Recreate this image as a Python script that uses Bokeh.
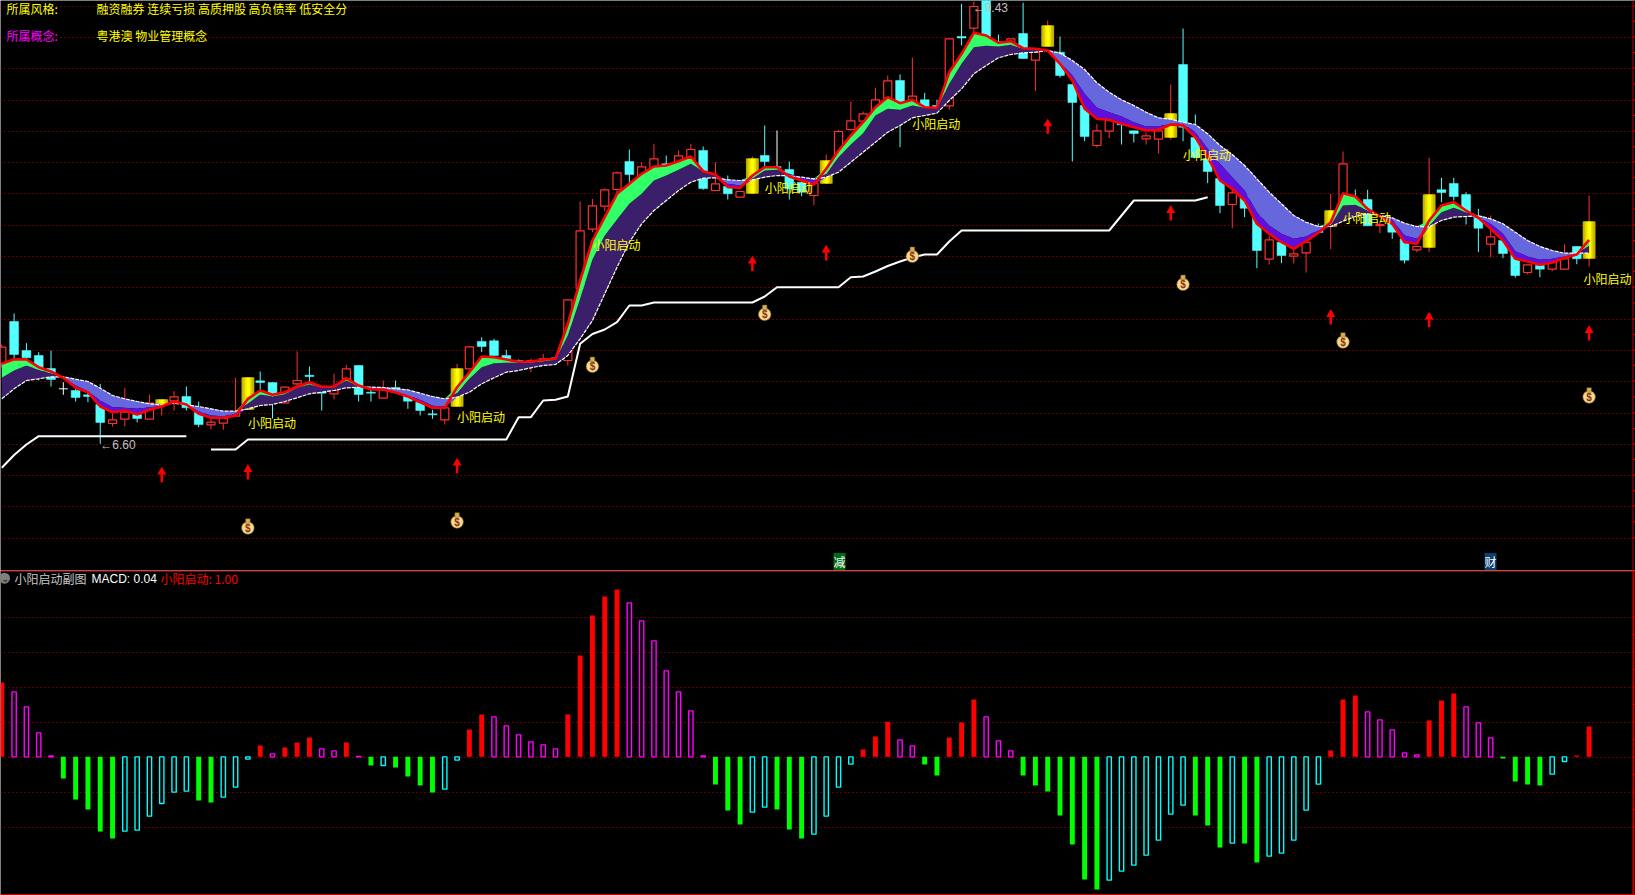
import numpy as np
from bokeh.plotting import figure
from bokeh.layouts import column
from bokeh.models import Range1d, FixedTicker, Grid, Span, Label
from bokeh.core.properties import value
from bokeh.embed import file_html
from bokeh.resources import INLINE

# ---------- candle values (chart level units) ----------
open_ = [207,249,220,215,202,181.7,180,175.7,166,147,
151.3,156,151.3,166.7,169.7,174,158,145.7,147.3,154.3,
161,189.7,188,167.7,186.7,195.3,179.3,176.7,191.7,205,
178.3,172.3,183,175,168.3,156.7,150.7,164,201.7,229,
229.7,215,210,207.7,209.3,212.7,210,282,341.3,364.3,
381,409,391.7,401.7,406.7,407.3,410,420,380,384,
373.3,377,415,403.5,401,388.3,375,387,413,441,
449.3,458.3,472.3,490,468.3,470.7,465,464.7,534,542.3,
575,529,525,537,510.3,524,518.3,486,465,425,
439.3,447.3,439.7,431.7,431.3,433,506,433,412,392,
366,375,355,311.3,328.3,314.3,317.7,342,344,355,
370,371,344.8,346.7,331.7,320.7,323,380.7,387,376,
354,326.3,330,316.7,298,305,301.3,301.3,324,312]
close_ = [223.3,216,212.7,193.3,191,181.7,173,174,148,150.7,
158.3,152,167.3,171,173.7,162.7,146,148.3,152,158.3,
193,188,176.7,183.3,190,194,177.3,180,201.7,176,
177.3,182.7,181,169.3,160,155.7,162.7,202,223.7,224,
215,210.7,209,210,211.7,210.7,270.7,339.7,364.7,380.7,
397.7,396,403.7,411.7,405,414.7,421,382,386.7,376.7,
379,412,409,403.5,381.7,378.3,387.3,410,439,449.7,
456.7,470.7,489.7,465,474.3,463.3,463,531.7,532.5,564,
533,527,531.7,512,518.3,545,495,468,434,439.7,
450.7,445.7,437,434.7,439.7,457,443.3,413,399,365,
377.7,362.3,320,330.7,315,316.7,328.3,338,360,406.7,
364,344.7,345.8,338.3,310.3,324,376,378,374,358.3,
342.3,333.7,317,295,305.7,301.3,308.3,311.7,311.7,349]
high_ = [226,257,227.3,218.3,220,188.3,182,180,186.7,157,
182.7,160,176,171,179.3,184,169,152,157,192.7,
193,199,188,183.3,219,204,182,196.7,205.7,205,
182,190,190,175,172,160.7,162.7,206.7,223.7,233.3,
231.7,220.7,211,212,216.7,214,270.7,369,371.7,382.3,
399,421,408.3,426.7,415,420,426.7,424,408.3,395,
379,414,445,440,409,389,387.3,416,440.7,469,
459,482.7,495,496,513,477.7,470.7,531.7,566.7,569,
575,536,531.7,567.7,518.3,550,534,486,465,446.7,
450.7,448,440,438,439.7,486,542,456,412,392,
383,375,355,335,328.3,324,328.3,347,376.7,419,
381,380.7,349,346.7,331.7,324,412.7,392.7,392.7,378.3,
361.7,355,330,316.7,305.7,305,308.3,326,324,375]
low_ = [203,212,203,190,184,175.7,169,168.3,126.7,144,
144,148,151.3,155,160,160,143.3,141.3,140.7,154.3,
161,172.3,152,167,183.3,188.3,160,171,188.3,169,
169,172.3,177,161.7,155,151.7,146,164,201.7,218.3,
215,210.7,209,198.3,208,209,205,282,338.3,359.3,
377,386.7,391.7,401.7,405,407.3,410,380.7,380,371,
373.3,377,400,402,371,374.3,365.3,387,413,439.3,
449.3,458.3,472.3,423.3,468.3,463.3,463,460.7,525,537,
533,527,525,512,479.3,524,493,409,429.3,423,
432.3,426,428,426,417,431,429.3,413,387.3,357.3,
342.3,353.3,302.3,306,307.3,307,298,338,321.3,355,
364,344.7,337.3,331.7,307,318.3,318.3,368.3,370,346,
318.3,313.3,312.3,293,296,293.3,299.3,301.3,306.3,304]

# ---------- signal candles (gold body) and markers ----------
signal_idx = [13,20,37,61,67,85,95,108,116,129]
bag_idx = [20,37,48,62,74,96,109,129]
bag_level = [44,50,205.7,257.7,315.7,287.7,230,175]
label_idx = [20,37,48,62,74,96,109,128.55]
label_level = [147.7,154,325.7,382.7,446.7,416,353.3,291.7]
arrow_low = [88.3,91,97.3,299.3,310,436.7,350,246,243.3,230]
arrow_high = [100,102.7,109,311,322,448.3,361.7,257.7,255,241.7]

# ---------- moving-average ribbon ----------
fast = [206.7,211.3,211,203.3,199,192.7,182.7,178.3,164,158.3,160,156,160.7,164,169,166,156.7,152.7,152.7,155,171.7,180,175.7,178.3,184,188.3,183.7,184,192.3,185,181.3,180.7,178,174,168.3,162.7,162.7,183.3,198.3,214,213.3,211,208.7,209,210.7,211.7,246.7,290,330,353.3,376.7,386.7,396.7,404,405,409.3,414,399.3,396,383.3,382.7,395,403.3,403.3,394,390,386,401.7,420,435,448.3,463.3,473.3,467.3,470.7,463.3,462.7,498.3,516.7,537.7,535,527.7,529.3,522.3,521.7,520,506.7,490,461.7,451.7,450.7,446.7,443.3,440,440.7,446,445,433.3,413.3,390,381.7,370,346.7,336.7,328.3,321.7,329.3,337.7,348.3,377.3,374,361.7,354,346.7,328.3,326.7,350,365,368.3,360,352.7,341.7,330,311.7,309,305.7,308,312.7,316,330.7]
mid = [192.7,200,205,200.7,197.3,193,185,179.3,170,163.3,162.7,161.7,163.3,164.7,168.7,165.7,159.3,155,154.3,156.7,167.3,176,174,176.3,182.7,186,183,183.3,190,184,182,181.3,178.5,175,170.7,164.7,164,177.7,191.7,203.3,207.3,207.7,207.7,208,209.3,210.7,235,271.7,311,335,351,366.7,376.7,390,395,400.7,406.7,399.3,395.7,386.7,385,392.3,400,400.7,396.7,392.7,390,396.7,413.3,426,437.3,455,461.7,460.7,465,462.7,462.3,486.7,506.7,523.3,524.7,524,525.7,521.7,521.3,521,508.3,495,476.7,462.7,458.3,454,448.3,444,444,447.3,446.7,438.3,421.7,406.7,393.3,380,358.3,345,336.7,331.7,334,340.7,345.7,365,366,360,354.7,350.7,335,331.7,345,358.3,362.7,358.3,353.3,346.7,336.7,319.3,314,310.7,311.7,314,316.7,325]
slow = [171.7,181.7,190,191.7,193.7,193.7,191.3,189,182.3,175,171.7,169,166.7,165.7,167.3,165.7,164,161.7,159.3,159.3,161.7,165,166,169,172.7,176.7,178.3,180,182.7,183.3,183.3,183,181.7,180.7,177.3,174,171.7,173.3,178.3,186.7,192.7,198.3,200,202.7,205,206,215,231.7,250,276.7,303.3,328.3,346.7,360,370,380,388.3,392.3,392.7,390.7,390,390.7,393.3,395,394.7,393.3,391.7,393.3,398.3,408.3,418.3,428.3,438.3,445,452.7,455,457.3,470,481.7,496.7,505,512.7,516,517.7,518.3,520,517.3,510,501,487.7,478.3,470.7,465,458.3,452.7,451.3,448.3,446,436.7,425,416,405,391.7,378.3,366.7,355,348.3,344,344,349.3,354,356.7,355,352.7,347.3,344,343.7,350,353.3,354,354.7,351.7,346.7,338.3,330,324,320,317.3,317.3,317.3]
support = ([102.7,115.5,126] + [134.3]*13 + [None] + [121]*3 + [131]*22 + [153.3,153.3,170,170.7,174,226.7,236.5,241,248.3,265,265]
           + [268]*9 + [274] + [283.3]*6 + [293.3,294,299,304.5,309,313,316,316,329] + [340]*13 + [355] + [370]*6 + [373.3] + [None]*31)

# ---------- MACD histogram ----------
macd = [223,195,150,72,3,-65,-128,-158,-224,-245,-223,-220,-178,-140,-106,-103,-131,-137,-121,-91,-7,34,9,28,43,58,24,18,43,1,-26,-26,-32,-59,-86,-107,-97,-10,82,127,120,93,66,45,36,24,127,304,424,481,502,462,408,348,258,195,138,3,-83,-161,-203,-166,-151,-158,-218,-245,-232,-178,-91,-22,22,61,105,51,33,-23,-56,58,103,172,120,48,18,-56,-86,-104,-176,-263,-368,-398,-370,-343,-325,-295,-250,-172,-145,-176,-206,-272,-259,-260,-317,-298,-289,-250,-160,-82,19,172,184,135,111,81,12,6,109,169,190,150,102,57,-5,-74,-83,-86,-52,-14,4,91]

price_grid = [564.5,533.5,502.5,470.5,439.5,408.5,377.5,345.5,314.5,283.5,251.5,220.5,189.5,157.5,126.5,95.5,64.5,32.5]
macd_grid = [419.5,314.5,209.5,104.5,-0.5,-105.5,-210.5]

style_row = "融资融券 连续亏损 高质押股 高负债率 低安全分"
concept_row = "粤港澳 物业管理概念"
signal_label = "小阳启动"

GRID = "#c80000"
RED = "#ff3030"
CYAN = "#54ffff"
CJK = "Noto Sans CJK SC"
LAT = "Liberation Sans"

open_ = np.array(open_, float); close_ = np.array(close_, float)
high_ = np.array(high_, float); low_ = np.array(low_, float)
fast = np.array(fast); mid = np.array(mid); slow = np.array(slow)
macd = np.array(macd, float)
n = len(open_)
x = np.arange(n)
is_gold = np.isin(x, signal_idx)
is_up = (close_ > open_) & ~is_gold
is_down = (close_ < open_) & ~is_gold
is_flat = (close_ == open_) & ~is_gold

x_range = Range1d(-0.106, 132.77)
AX = 132.57

p = figure(width=1635, height=570, x_range=x_range, y_range=Range1d(0, 570),
           output_backend="svg", toolbar_location=None, background_fill_color="#000000",
           border_fill_color="#000000", outline_line_color=None,
           min_border=0, x_axis_location=None, y_axis_location=None)
p.xgrid.visible = False
p.ygrid.visible = False
p.add_layout(Grid(dimension=1, ticker=FixedTicker(ticks=price_grid), grid_line_color=GRID,
                  grid_line_dash="1 3", grid_line_width=1))
p.quad(left=AX, right=133, bottom=0, top=570, fill_color="#000000", line_color=None)

# candles
B = 0.72
for mask, col in ((is_up, RED), (is_down, CYAN), (is_gold, RED), (is_flat, "#ffffff")):
    p.segment(x[mask], high_[mask], x[mask], low_[mask], line_color=col, line_width=1)
p.segment(x[is_flat] - B/2, close_[is_flat], x[is_flat] + B/2, close_[is_flat], line_color="#ffffff", line_width=1)
top = np.maximum(open_, close_); bot = np.minimum(open_, close_)
p.vbar(x[is_down], B, bot[is_down], top[is_down], fill_color=CYAN, line_color=CYAN, line_width=0.5)
p.vbar(x[is_up], B - 0.06, bot[is_up], top[is_up], fill_color="#000000", line_color=RED, line_width=1.2)

# gold signal candles, shaded across their width
p.vbar(x[is_gold], 1.05, bot[is_gold], top[is_gold], fill_color="#a09000", line_color=None)
shades = ["#c8b800", "#e0d000", "#f4ec00", "#ffff00", "#ffff00", "#ecdc00", "#c8b800"]
gw = 0.9 / len(shades)
for k, col in enumerate(shades):
    off = -0.45 + gw * (k + 0.5)
    p.vbar(x[is_gold] + off, gw * 1.5, bot[is_gold], top[is_gold], fill_color=col, line_color=None)

# ribbon
upper = np.maximum(mid, slow)
lower = np.minimum(mid, slow)
p.varea(x, slow, upper, fill_color="#3b1f6b")
p.varea(x, upper, np.maximum(fast, upper), fill_color="#33ff66")
p.varea(x, slow, lower, fill_color="#6666dd")
p.varea(x, lower, np.minimum(fast, lower), fill_color="#5f10dd")
p.line(x, slow, line_color="#ffffff", line_width=1.2, line_dash="4 1")
p.line(x, fast, line_color="#ff0000", line_width=2.6)
p.line(x, np.array([np.nan if v is None else v for v in support], float), line_color="#ffffff", line_width=2)

# arrows
ax = np.array(signal_idx, float)
p.segment(ax, arrow_low, ax, arrow_high, line_color="#ff0000", line_width=2.5)
p.scatter(ax, np.array(arrow_high) - 1.5, marker="triangle", size=9, fill_color="#ff0000", line_color=None)

# money bags
bx = np.array(bag_idx, float); by = np.array(bag_level, float)
p.scatter(bx, by - 1.5, marker="circle", size=12.5, fill_color="#f6d98a", line_color="#8a6a20", line_width=0.6)
p.scatter(bx, by + 5.5, marker="square", size=4.5, fill_color="#d8b050", line_color="#7a5a20", line_width=0.5)
p.text(bx, by - 1.5, text=["$"] * len(bx), text_color="#8a3018", text_font=value(LAT), text_font_style="bold",
       text_font_size="10px", text_align="center", text_baseline="middle")

# signal labels
p.text(label_idx, label_level, text=[signal_label] * len(label_idx),
       text_color="#ffff00", text_font=value(CJK), text_font_size="12px", text_align="left", text_baseline="middle")

# extremes
p.text([8.0], [126], text=["←6.60"], text_color="#c0c0c0", text_font=value(LAT), text_font_size="12px",
       text_baseline="middle")
p.text([78.9], [562.5], text=["←9.43"], text_color="#c0c0c0", text_font=value(LAT), text_font_size="12px",
       text_baseline="middle")

def screen_label(fig, px, py, txt, color, font=CJK, size="12px", bg=None):
    fig.add_layout(Label(x=px, y=py, x_units="screen", y_units="screen", text=txt, text_color=color,
                         text_font=font, text_font_size=size, text_baseline="middle",
                         background_fill_color=bg))

screen_label(p, 6, 570 - 8, "所属风格:", "#ffff00")
screen_label(p, 96, 570 - 8, style_row, "#ffff00")
screen_label(p, 6, 570 - 35, "所属概念:", "#ff00ff")
screen_label(p, 96, 570 - 35, concept_row, "#ffff00")
screen_label(p, 833, 9, "减", "#ffffff", bg="#006a10")
screen_label(p, 1484, 9, "财", "#ffffff", bg="#0a3f70")
p.add_layout(Span(location=AX, dimension="height", line_color="#c00000", line_width=1))
ticks_main = np.concatenate((price_grid, (np.array(price_grid[:-1]) + np.array(price_grid[1:])) / 2))
p.segment(AX, ticks_main, 132.8, ticks_main, line_color="#c00000", line_width=1)

# ---------- MACD pane ----------
q = figure(width=1635, height=325, x_range=x_range, y_range=Range1d(-416, 559),
           output_backend="svg", toolbar_location=None, background_fill_color="#000000",
           border_fill_color="#000000", outline_line_color=None,
           min_border=0, x_axis_location=None, y_axis_location=None)
q.xgrid.visible = False
q.ygrid.visible = False
q.add_layout(Grid(dimension=1, ticker=FixedTicker(ticks=macd_grid), grid_line_color=GRID,
                  grid_line_dash="1 3", grid_line_width=1))
q.quad(left=AX, right=133, bottom=-416, top=559, fill_color="#000000", line_color=None)
rising = np.concatenate(([True], macd[1:] >= macd[:-1]))
solid_up = x[(macd > 0) & rising]
hollow_up = x[(macd > 0) & ~rising]
solid_dn = x[(macd < 0) & ~rising]
hollow_dn = x[(macd < 0) & rising]
W = 0.4
q.vbar(solid_up, W, 0, macd[solid_up], fill_color="#ff0000", line_color=None)
q.vbar(solid_dn, W, 0, macd[solid_dn], fill_color="#00ff00", line_color=None)
q.vbar(hollow_up, W - 0.05, 0, macd[hollow_up], fill_color="#000000", line_color="#ff00ff", line_width=1.4)
q.vbar(hollow_dn, W - 0.05, 0, macd[hollow_dn], fill_color="#000000", line_color="#00ffff", line_width=1.4)
q.add_layout(Span(location=557, dimension="width", line_color="#c00000", line_width=1.2))
q.add_layout(Span(location=-413, dimension="width", line_color="#c00000", line_width=1.2))
q.add_layout(Span(location=AX + 0.03, dimension="height", line_color="#c00000", line_width=2))
ticks_sub = np.concatenate((macd_grid, (np.array(macd_grid[:-1]) + np.array(macd_grid[1:])) / 2))
q.segment(AX, ticks_sub, 132.8, ticks_sub, line_color="#c00000", line_width=1)
q.scatter([0.22], [536], marker="circle", size=11, fill_color="#808080", line_color=None)
q.text([0.22], [536], text=["⌄"], text_color="#202020", text_font=value(LAT), text_font_size="10px",
       text_align="center", text_baseline="middle")
screen_label(q, 14, 325 - 8, "小阳启动副图", "#c8c8c8")
screen_label(q, 91, 325 - 8, "MACD: 0.04", "#ffffff", LAT)
screen_label(q, 160, 325 - 8, "小阳启动: 1.00", "#ff0000")

page = column(p, q, spacing=0)
open("out.html", "w").write(file_html(page, INLINE))
